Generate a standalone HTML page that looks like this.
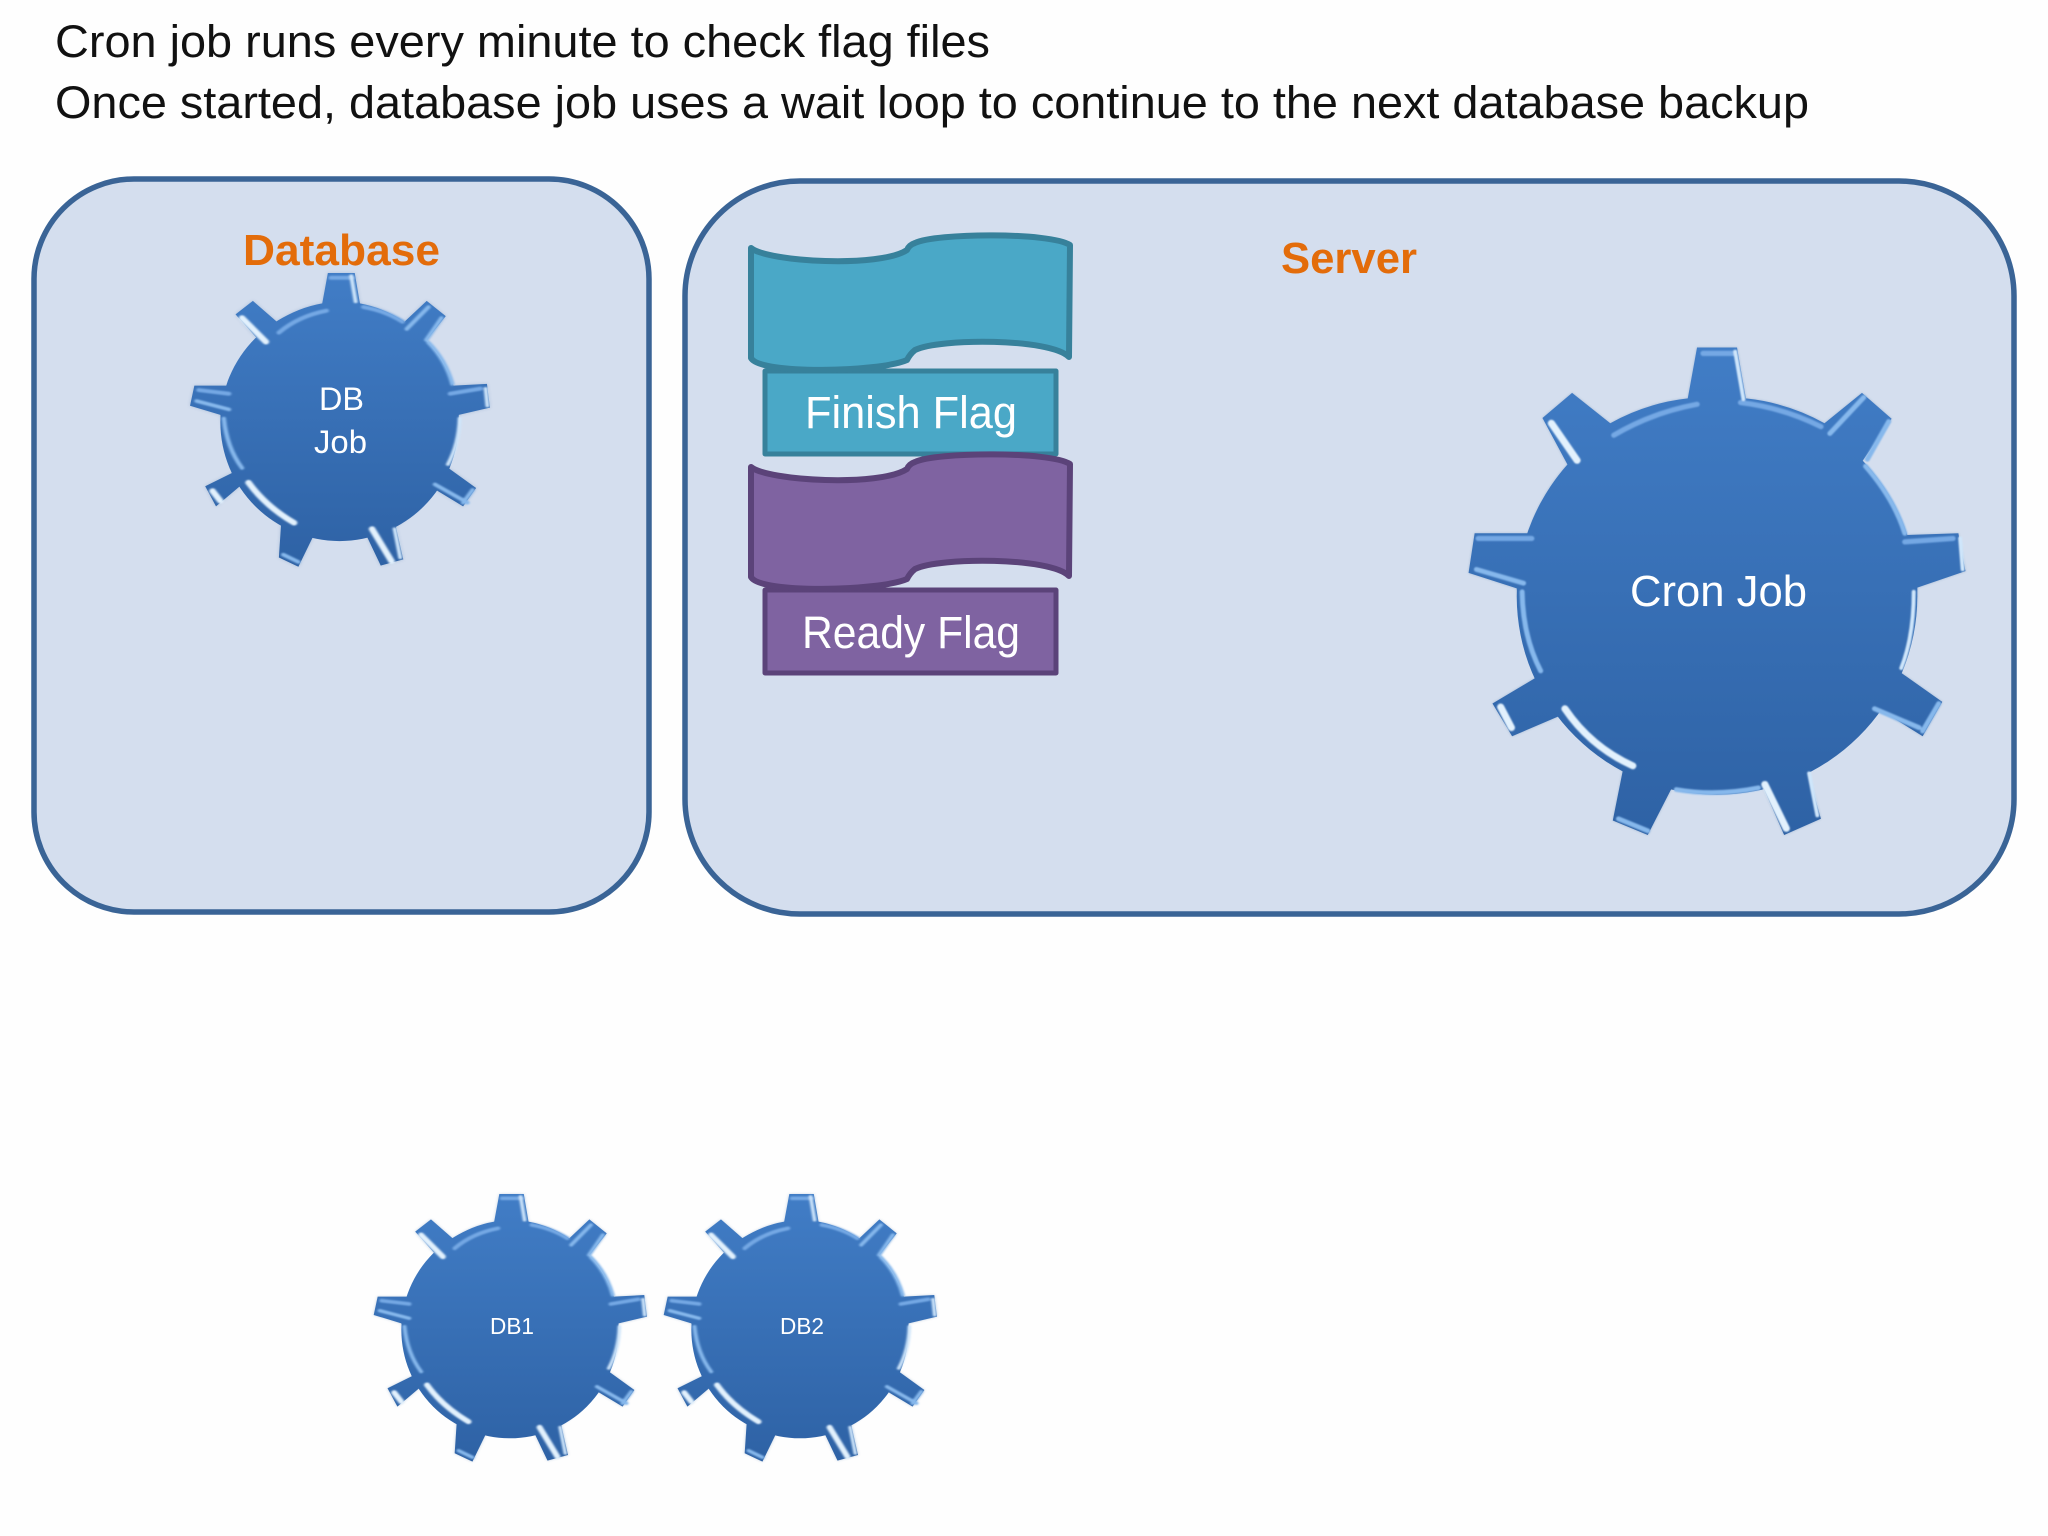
<!DOCTYPE html>
<html><head><meta charset="utf-8"><style>html,body{margin:0;padding:0;background:#fff}svg{display:block}text{font-family:"Liberation Sans",sans-serif}</style></head>
<body>
<svg xmlns="http://www.w3.org/2000/svg" width="2048" height="1536" viewBox="0 0 2048 1536">
<defs>
<linearGradient id="g" gradientUnits="userSpaceOnUse" x1="0" y1="80" x2="0" y2="1497"><stop offset="0" stop-color="#417dc6"/><stop offset="1" stop-color="#2e62a5"/></linearGradient>
<linearGradient id="g2" gradientUnits="userSpaceOnUse" x1="0" y1="72" x2="0" y2="872"><stop offset="0" stop-color="#417dc6"/><stop offset="1" stop-color="#2e62a5"/></linearGradient>
<filter id="sh" x="-5%" y="-5%" width="110%" height="110%"><feGaussianBlur stdDeviation="4"/></filter>
<filter id="soft" x="-5%" y="-5%" width="110%" height="110%"><feGaussianBlur stdDeviation="2.5"/></filter>
<path id="body" d="M722 228L748 80H860L885 228A560 560 0 0 1 1105 300L1210 212L1293 287L1210 412A560 560 0 0 1 1335 625L1480 620L1500 730L1365 778A560 560 0 0 1 1312 1020L1435 1110L1380 1210L1240 1120A560 560 0 0 1 1058 1310L1095 1450L992 1497L925 1340A560 560 0 0 1 680 1355L610 1497L512 1455L540 1310A560 560 0 0 1 365 1150L230 1210L175 1115L320 1025A560 560 0 0 1 243 780L108 735L125 620H275A560 560 0 0 1 385 420L315 285L398 212L505 300A560 560 0 0 1 722 228Z"/>
<g id="gear">
<use href="#body" fill="#6d8fb8" opacity=".45" filter="url(#sh)"/>
<use href="#body" fill="url(#g)"/>
<ellipse cx="804" cy="804" rx="561" ry="576" fill="url(#g)"/>
<g fill="none" stroke-linecap="round" filter="url(#soft)">
<path d="M515 335Q620 270 748 245M870 240Q990 255 1095 310M765 97H850M135 635H285M1330 645L1465 635" stroke="#74a8e4" stroke-width="15"/>
<path d="M1120 330L1215 225M1225 405L1285 295M1220 425Q1300 520 1330 620M258 790Q260 920 310 1020M130 725L262 765M1245 1130L1370 1185M1425 1115L1380 1195M528 1450L610 1485M690 1365Q800 1385 920 1360" stroke="#86b8ec" stroke-width="14"/>
<path d="M855 92L878 230M1355 790Q1355 920 1320 1012M1485 635L1492 725M1062 1318L1085 1440" stroke="#cfe6fb" stroke-width="11"/>
<path d="M340 300L412 408M378 1130Q450 1240 568 1296M198 1125L228 1185M938 1350L998 1478" stroke="#e2f1fd" stroke-width="20"/>
</g>
</g>
<path id="sbody" d="M365 155L378 72H440L452 155A275 325 0 0 1 555 205L606 148L650 190L600 265A275 325 0 0 1 668 380L745 375L752 440L680 460A275 325 0 0 1 650 600L720 660L690 710L620 660A275 325 0 0 1 535 765L552 855L500 872L465 785A275 325 0 0 1 345 790L310 875L265 850L270 760A275 325 0 0 1 190 640L120 710L95 655L180 605A275 325 0 0 1 130 460L60 435L70 380H150A275 325 0 0 1 225 265L165 185L205 148L260 205A275 325 0 0 1 365 155Z"/>
<g id="sgear">
<use href="#sbody" fill="#6d8fb8" opacity=".4" filter="url(#sh)"/>
<use href="#sbody" fill="url(#g2)"/>
<ellipse cx="405" cy="480" rx="275" ry="325" fill="url(#g2)"/>
<g fill="none" stroke-linecap="round" filter="url(#soft)">
<path d="M265 235Q310 190 375 175M460 165Q510 175 550 205M385 85H435M80 392L150 402M660 402L730 388" stroke="#74a8e4" stroke-width="11"/>
<path d="M560 225L610 165M610 262Q650 310 665 375M138 470Q145 550 180 605M75 422L150 445M625 650L700 700M712 665L690 700M275 842L310 862M640 195L605 255" stroke="#86b8ec" stroke-width="10"/>
<path d="M432 80L442 150M682 470Q680 540 655 595M742 388L746 435M532 772L545 850" stroke="#cfe6fb" stroke-width="9"/>
<path d="M180 195L235 260M195 645Q235 710 300 755M112 668L130 695M480 772L525 860" stroke="#e2f1fd" stroke-width="15"/>
</g>
</g>
</defs>
<rect width="2048" height="1536" fill="#fefefe"/>
<text x="55" y="57" font-size="45" fill="#111" textLength="935" lengthAdjust="spacingAndGlyphs">Cron job runs every minute to check flag files</text>
<text x="55" y="118" font-size="45" fill="#111" textLength="1754" lengthAdjust="spacingAndGlyphs">Once started, database job uses a wait loop to continue to the next database backup</text>

<rect x="34" y="179" width="615" height="733" rx="100" ry="100" fill="#d4deee" stroke="#3a6496" stroke-width="5.5"/>
<rect x="685" y="181" width="1329" height="733" rx="115" ry="115" fill="#d4deee" stroke="#3a6496" stroke-width="5.5"/>

<text x="243" y="265" font-size="44" font-weight="700" fill="#e36c0a" textLength="197" lengthAdjust="spacingAndGlyphs">Database</text>
<text x="1281" y="273" font-size="44" font-weight="700" fill="#e36c0a" textLength="136" lengthAdjust="spacingAndGlyphs">Server</text>

<use href="#sgear" transform="translate(164 246.7) scale(.4335 .3657)"/>
<text x="319" y="410" font-size="32" fill="#fff" textLength="45" lengthAdjust="spacingAndGlyphs">DB</text>
<text x="314" y="453" font-size="32" fill="#fff" textLength="53" lengthAdjust="spacingAndGlyphs">Job</text>

<use href="#gear" transform="translate(1430 320) scale(.357 .344)"/>
<text x="1630" y="606" font-size="44" fill="#fff" textLength="177" lengthAdjust="spacingAndGlyphs">Cron Job</text>

<use href="#sgear" transform="translate(350 1170) scale(.395 .3333)"/>
<text x="490" y="1334" font-size="23" fill="#fff" textLength="44" lengthAdjust="spacingAndGlyphs">DB1</text>
<use href="#sgear" transform="translate(640 1170) scale(.395 .3333)"/>
<text x="780" y="1334" font-size="23" fill="#fff" textLength="44" lengthAdjust="spacingAndGlyphs">DB2</text>

<rect x="765" y="371" width="291" height="83" fill="#4aa8c7" stroke="#37819b" stroke-width="5" stroke-linejoin="round"/>
<path d="M751 248C768 262 880 268 907 250Q909 245 915 243C935 233 1050 232 1070 245L1069 357C1050 338 940 338 915 350Q910 354 907 360C880 372 760 375 751 358Z" fill="#4aa8c7" stroke="#37819b" stroke-width="6" stroke-linejoin="round"/>
<text x="805" y="428" font-size="45" fill="#fff" textLength="212" lengthAdjust="spacingAndGlyphs">Finish Flag</text>

<rect x="765" y="590" width="291" height="83" fill="#7f63a1" stroke="#5b4379" stroke-width="5" stroke-linejoin="round"/>
<path transform="translate(0 219)" d="M751 248C768 262 880 268 907 250Q909 245 915 243C935 233 1050 232 1070 245L1069 357C1050 338 940 338 915 350Q910 354 907 360C880 372 760 375 751 358Z" fill="#7f63a1" stroke="#5b4379" stroke-width="6" stroke-linejoin="round"/>
<text x="802" y="648" font-size="45" fill="#fff" textLength="218" lengthAdjust="spacingAndGlyphs">Ready Flag</text>
</svg>
</body></html>
